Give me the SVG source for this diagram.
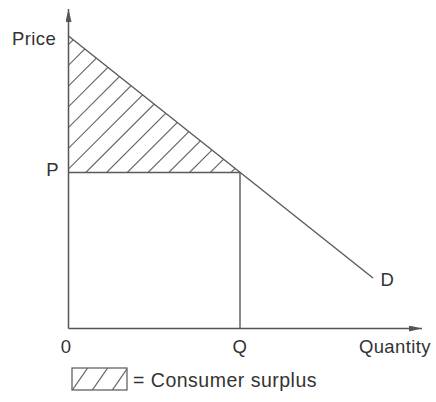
<svg xmlns="http://www.w3.org/2000/svg" width="436" height="402" viewBox="0 0 436 402">
  <style>
    .ax { stroke: #555; stroke-width: 1.5; fill: none; }
    .ln { stroke: #5a5a5a; stroke-width: 1.4; fill: none; }
    .hatch { stroke: #666; stroke-width: 1.2; fill: none; }
    .lbl { font-family: "Liberation Sans", Arial, sans-serif; font-size: 18.5px; letter-spacing: 0.4px; fill: #333; }
    .leg { font-family: "Liberation Sans", Arial, sans-serif; font-size: 19.5px; letter-spacing: 0.5px; fill: #333; }
  </style>
  <defs>
    <marker id="arr" markerUnits="userSpaceOnUse" markerWidth="14" markerHeight="7" refX="13" refY="3" orient="auto">
      <path d="M0,0 L13,3 L0,6 Z" fill="#555"/>
    </marker>
    <clipPath id="triClip">
      <polygon points="68.5,36 68.5,172.5 240,172.5"/>
    </clipPath>
    <clipPath id="legClip">
      <rect x="72" y="368" width="55" height="22"/>
    </clipPath>
  </defs>
  <rect width="436" height="402" fill="#fff"/>

  <g id="surplus">
    <g class="hatch" clip-path="url(#triClip)">
      <line x1="60" y1="53" x2="250" y2="-137"/>
      <line x1="60" y1="73.75" x2="250" y2="-116.25"/>
      <line x1="60" y1="94.5" x2="250" y2="-95.5"/>
      <line x1="60" y1="115.25" x2="250" y2="-74.75"/>
      <line x1="60" y1="136" x2="250" y2="-54"/>
      <line x1="60" y1="156.75" x2="250" y2="-33.25"/>
      <line x1="60" y1="177.5" x2="250" y2="-12.5"/>
      <line x1="60" y1="198.25" x2="250" y2="8.25"/>
      <line x1="60" y1="219" x2="250" y2="29"/>
      <line x1="60" y1="239.75" x2="250" y2="49.75"/>
      <line x1="60" y1="260.5" x2="250" y2="70.5"/>
      <line x1="60" y1="281.25" x2="250" y2="91.25"/>
      <line x1="60" y1="302" x2="250" y2="112"/>
      <line x1="60" y1="322.75" x2="250" y2="132.75"/>
      <line x1="60" y1="343.5" x2="250" y2="153.5"/>
    </g>
  </g>

  <g id="guides">
    <line class="ln" x1="68.5" y1="172.5" x2="240" y2="172.5"/>
    <line class="ln" x1="240" y1="172.5" x2="240" y2="328.5"/>
  </g>

  <g id="demand">
    <line class="ln" x1="68.5" y1="36" x2="373" y2="278"/>
  </g>

  <g id="axes">
    <line class="ax" x1="68.5" y1="328.5" x2="68.5" y2="9" marker-end="url(#arr)"/>
    <line class="ax" x1="68.5" y1="328.5" x2="422" y2="328.5" marker-end="url(#arr)"/>
  </g>

  <g id="labels">
    <text class="lbl" x="12" y="45">Price</text>
    <text class="lbl" x="52.5" y="175.5" text-anchor="middle">P</text>
    <text class="lbl" x="66" y="353" text-anchor="middle">0</text>
    <text class="lbl" x="240" y="352.5" text-anchor="middle">Q</text>
    <text class="lbl" x="431" y="352.5" text-anchor="end">Quantity</text>
    <text class="lbl" x="387.5" y="285.5" text-anchor="middle">D</text>
  </g>

  <g id="legend">
    <rect x="72" y="368" width="55" height="22" fill="none" stroke="#555" stroke-width="1.2"/>
    <g class="hatch" clip-path="url(#legClip)">
      <line x1="71" y1="392" x2="89" y2="366"/>
      <line x1="91" y1="392" x2="109" y2="366"/>
      <line x1="111" y1="392" x2="129" y2="366"/>
    </g>
    <text class="leg" x="133" y="386.5">= Consumer surplus</text>
  </g>
</svg>
